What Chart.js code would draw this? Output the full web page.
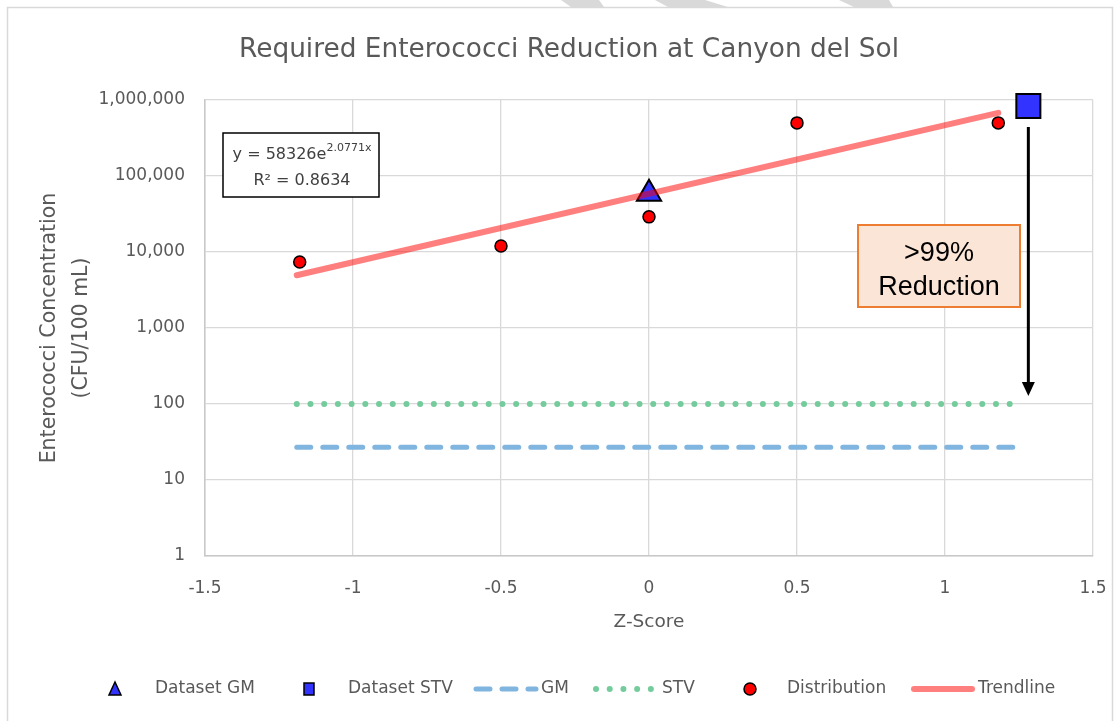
<!DOCTYPE html>
<html><head><meta charset="utf-8">
<script src="https://cdn.jsdelivr.net/npm/chart.js@4.4.0/dist/chart.umd.min.js"></script>
<style>html,body{margin:0;padding:0;background:#fff;} #wrap{width:1120px;height:721px;}</style>
</head><body><div id="wrap"><canvas id="c" width="1120" height="721"></canvas></div>
<script>
// ---- data ----
const distZ = [-1.18, -0.5, 0, 0.5, 1.18];
const distValue = [7400, 12000, 29000, 500000, 500000];
const gmZ = [0];
const gmValue = [58326];
const stvZ = [1.2816];
const stvValue = [835800];
const gmLineZ = [-1.19, 1.26];
const gmLineValue = [27, 27];
const stvLineZ = [-1.19, 1.26];
const stvLineValue = [100, 100];
const trendZ = [-1.19, 1.18];
const trendValue = [4950, 676000];
const xTickValues = [-1.5, -1, -0.5, 0, 0.5, 1, 1.5];
const xTickLabels = ['-1.5', '-1', '-0.5', '0', '0.5', '1', '1.5'];
const yTickValues = [1, 10, 100, 1000, 10000, 100000, 1000000];
const yTickLabels = ['1', '10', '100', '1,000', '10,000', '100,000', '1,000,000'];
const legendLabels = ['Dataset GM', 'Dataset STV', 'GM', 'STV', 'Distribution', 'Trendline'];
const titleText = 'Required Enterococci Reduction at Canyon del Sol';
const yTitleLines = ['Enterococci Concentration', '(CFU/100 mL)'];
const xTitleText = 'Z-Score';
const eqMain = 'y = 58326e';
const eqSup = '2.0771x';
const r2Text = 'R\u00B2 = 0.8634';
const noteLines = ['>99%', 'Reduction'];

const pts = (xs, ys) => xs.map((x, i) => ({ x: x, y: ys[i] }));

const FONT = "'DejaVu Sans', 'Open Sans', sans-serif";
const GREY = '#595959';
const BLUE = '#3333FF';
const GMC = '#80B5E0';
const STVC = '#74CC9C';
const TRENDC = 'rgba(255,0,0,0.5)';

const decor = {
  id: 'decor',
  beforeDraw(chart) {
    const ctx = chart.ctx;
    ctx.save();
    ctx.fillStyle = '#fff';
    ctx.fillRect(0, 0, chart.width, chart.height);
    ctx.strokeStyle = '#D9D9D9';
    ctx.lineWidth = 1.5;
    ctx.strokeRect(7.5, 7.5, 1105, 730);
    ctx.fillStyle = '#D9D9D9';
    const shapes = [
      [[561, 0], [599, 0], [604, 7], [571, 7]],
      [[655, 0], [705, 0], [728, 7], [668, 7]],
      [[839, 0], [889, 0], [893, 7], [854, 7]]
    ];
    shapes.forEach(s => {
      ctx.beginPath();
      ctx.moveTo(s[0][0], s[0][1]);
      for (let i = 1; i < s.length; i++) ctx.lineTo(s[i][0], s[i][1]);
      ctx.closePath();
      ctx.fill();
    });
    ctx.restore();
  },
  afterDraw(chart) {
    const ctx = chart.ctx;
    const xs = chart.scales.x, ys = chart.scales.y;
    const ca = chart.chartArea;
    ctx.save();
    // title
    ctx.fillStyle = GREY;
    ctx.textAlign = 'center';
    ctx.textBaseline = 'middle';
    ctx.font = '26.4px ' + FONT;
    ctx.fillText(titleText, 569, 50);
    // x title
    ctx.font = '18.5px ' + FONT;
    ctx.fillText(xTitleText, (ca.left + ca.right) / 2, 622);
    // y title
    ctx.save();
    ctx.translate(50, (ca.top + ca.bottom) / 2);
    ctx.rotate(-Math.PI / 2);
    ctx.font = '20.5px ' + FONT;
    ctx.fillText(yTitleLines[0], 0, 0);
    ctx.fillText(yTitleLines[1], 0, 32);
    ctx.restore();

    // equation box
    ctx.fillStyle = '#fff';
    ctx.fillRect(223, 133, 156, 64);
    ctx.strokeStyle = '#000';
    ctx.lineWidth = 1.5;
    ctx.strokeRect(223, 133, 156, 64);
    ctx.fillStyle = '#404040';
    ctx.font = '16px ' + FONT;
    const w1 = ctx.measureText(eqMain).width;
    ctx.font = '11px ' + FONT;
    const w2 = ctx.measureText(eqSup).width;
    const sx = 302 - (w1 + w2) / 2;
    ctx.textAlign = 'left';
    ctx.font = '16px ' + FONT;
    ctx.fillText(eqMain, sx, 155);
    ctx.font = '11px ' + FONT;
    ctx.fillText(eqSup, sx + w1, 148);
    ctx.textAlign = 'center';
    ctx.font = '16px ' + FONT;
    ctx.fillText(r2Text, 302, 181);

    // note box
    ctx.fillStyle = '#FBE5D6';
    ctx.fillRect(858, 225, 162, 82);
    ctx.strokeStyle = '#ED7D31';
    ctx.lineWidth = 2;
    ctx.strokeRect(858, 225, 162, 82);
    ctx.fillStyle = '#000';
    ctx.font = '27px "Liberation Sans", Arial, sans-serif';
    ctx.fillText(noteLines[0], 939, 254);
    ctx.fillText(noteLines[1], 939, 288);

    // arrow from STV marker down to STV threshold
    const ax = xs.getPixelForValue(stvZ[0]);
    const ay0 = ys.getPixelForValue(stvValue[0]) + 21;
    const ay1 = ys.getPixelForValue(stvLineValue[0]) - 8;
    ctx.strokeStyle = '#000';
    ctx.lineWidth = 3;
    ctx.beginPath();
    ctx.moveTo(ax, ay0);
    ctx.lineTo(ax, ay1 - 10);
    ctx.stroke();
    ctx.fillStyle = '#000';
    ctx.beginPath();
    ctx.moveTo(ax - 6.5, ay1 - 14);
    ctx.lineTo(ax + 6.5, ay1 - 14);
    ctx.lineTo(ax, ay1);
    ctx.closePath();
    ctx.fill();

    // legend
    const ly = 689;
    ctx.font = '17px ' + FONT;
    ctx.fillStyle = GREY;
    ctx.textAlign = 'left';
    const tx = [155, 348, 541, 662, 787, 978];
    legendLabels.forEach((t, i) => ctx.fillText(t, tx[i], ly));
    // triangle
    ctx.fillStyle = BLUE; ctx.strokeStyle = '#000'; ctx.lineWidth = 1.5;
    ctx.beginPath();
    ctx.moveTo(115, ly - 7); ctx.lineTo(121, ly + 6); ctx.lineTo(109, ly + 6); ctx.closePath();
    ctx.fill(); ctx.stroke();
    // square
    ctx.beginPath(); ctx.rect(304, ly - 6, 10, 12); ctx.fill(); ctx.stroke();
    // GM dashed
    ctx.strokeStyle = GMC; ctx.lineWidth = 5; ctx.lineCap = 'round';
    ctx.setLineDash([14, 12]);
    ctx.beginPath(); ctx.moveTo(476, ly); ctx.lineTo(536, ly); ctx.stroke();
    // STV dotted
    ctx.strokeStyle = STVC; ctx.lineWidth = 6;
    ctx.setLineDash([0.01, 13.7]);
    ctx.beginPath(); ctx.moveTo(596, ly); ctx.lineTo(652, ly); ctx.stroke();
    ctx.setLineDash([]);
    // circle
    ctx.fillStyle = '#FF0000'; ctx.strokeStyle = '#000'; ctx.lineWidth = 1.5;
    ctx.beginPath(); ctx.arc(750, ly, 6, 0, Math.PI * 2); ctx.fill(); ctx.stroke();
    // trendline
    ctx.strokeStyle = TRENDC; ctx.lineWidth = 6;
    ctx.beginPath(); ctx.moveTo(914, ly); ctx.lineTo(972, ly); ctx.stroke();
    ctx.restore();
  }
};

new Chart(document.getElementById('c'), {
  type: 'scatter',
  data: {
    datasets: [
      { label: legendLabels[5], data: pts(trendZ, trendValue), showLine: true, borderColor: TRENDC,
        borderWidth: 6, pointRadius: 0, borderCapStyle: 'round', order: 0 },
      { label: legendLabels[0], data: pts(gmZ, gmValue), pointStyle: 'triangle', pointRadius: 14,
        backgroundColor: BLUE, borderColor: '#000', borderWidth: 2, order: 1, clip: false },
      { label: legendLabels[1], data: pts(stvZ, stvValue), pointStyle: 'rect', pointRadius: 17,
        backgroundColor: BLUE, borderColor: '#000', borderWidth: 2, order: 1, clip: false },
      { label: legendLabels[4], data: pts(distZ, distValue), pointStyle: 'circle', pointRadius: 6,
        backgroundColor: '#FF0000', borderColor: '#000', borderWidth: 1.5, order: 2, clip: false },
      { label: legendLabels[2], data: pts(gmLineZ, gmLineValue), showLine: true, borderColor: GMC,
        borderWidth: 5, borderDash: [14, 12], borderCapStyle: 'round', pointRadius: 0, order: 3 },
      { label: legendLabels[3], data: pts(stvLineZ, stvLineValue), showLine: true, borderColor: STVC,
        borderWidth: 6, borderDash: [0.01, 13.7], borderCapStyle: 'round', pointRadius: 0, order: 3 }
    ]
  },
  options: {
    responsive: false,
    animation: false,
    events: [],
    layout: { padding: { top: 100, right: 27, left: 0, bottom: 0 } },
    plugins: { legend: { display: false }, title: { display: false }, tooltip: { enabled: false } },
    scales: {
      x: {
        type: 'linear', min: -1.5, max: 1.5,
        afterFit(s) { s.height = 165; s.paddingLeft = 0; s.paddingRight = 0; },
        afterBuildTicks(s) { s.ticks = xTickValues.map(v => ({ value: v })); },
        grid: { color: '#D9D9D9', lineWidth: 1.3, drawTicks: false },
        border: { color: '#C8C8C8', width: 1.5 },
        ticks: { padding: 22, color: GREY, font: { family: FONT, size: 17 },
          callback: (v, i) => xTickLabels[i] }
      },
      y: {
        type: 'logarithmic', min: 1, max: 1000000,
        afterFit(s) { s.width = 205; s.paddingTop = 0; s.paddingBottom = 0; },
        afterBuildTicks(s) { s.ticks = yTickValues.map(v => ({ value: v })); },
        grid: { color: '#D9D9D9', lineWidth: 1.3, drawTicks: false },
        border: { color: '#C8C8C8', width: 1.5 },
        ticks: { padding: 20, color: GREY, font: { family: FONT, size: 17 },
          callback: (v, i) => yTickLabels[i] }
      }
    }
  },
  plugins: [decor]
});
</script></body></html>
